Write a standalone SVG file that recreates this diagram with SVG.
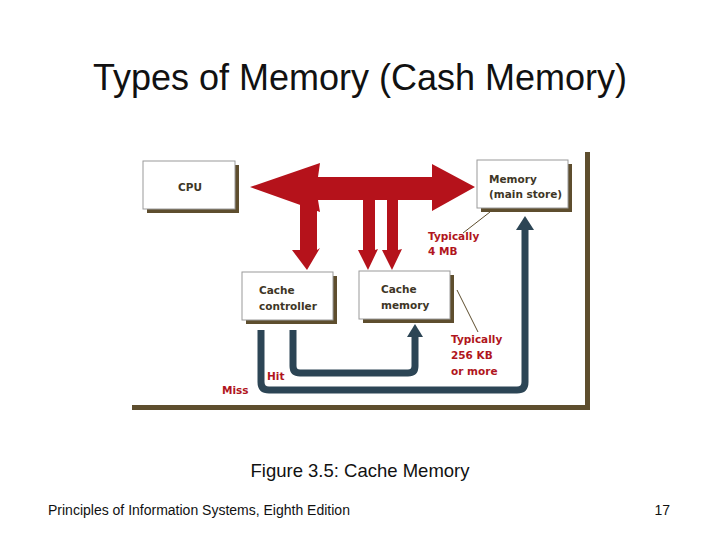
<svg xmlns="http://www.w3.org/2000/svg" width="720" height="540" viewBox="0 0 720 540">
<defs>
<style>
.box{fill:#fff;stroke:#9a9a9a;stroke-width:1}
.sh{fill:#5e4e2e}
.bt{font-family:"DejaVu Sans",sans-serif;font-size:10.5px;font-weight:bold;fill:#3e3626}
.rt{font-family:"DejaVu Sans",sans-serif;font-size:10.5px;font-weight:bold;fill:#b01520}
.blue{fill:none;stroke:#2c4555;stroke-width:7;stroke-linejoin:round}
.ah{fill:#2c4555}
.red{fill:#b5121b}
.lead{stroke:#5e4e2e;stroke-width:1}
</style>
</defs>
<rect width="720" height="540" fill="#fff"/>
<text x="360" y="90" text-anchor="middle" font-family="Liberation Sans, Arial, sans-serif" font-size="36" fill="#111">Types of Memory (Cash Memory)</text>
<g id="frame">
<rect x="585" y="152" width="5" height="258" class="sh"/>
<rect x="132" y="405" width="458" height="5" class="sh"/>
</g>
<g id="cpu">
<rect x="147" y="165" width="92" height="48" class="sh"/>
<rect x="143" y="161" width="92" height="48" class="box"/>
<text x="178" y="191" class="bt">CPU</text>
</g>
<g id="memory">
<rect x="481" y="164" width="91" height="48" class="sh"/>
<rect x="477" y="160" width="91" height="48" class="box"/>
<text x="489" y="183" class="bt">Memory</text>
<text x="489" y="198" class="bt">(main store)</text>
</g>
<g id="cache-controller">
<rect x="246" y="276" width="91" height="48" class="sh"/>
<rect x="242" y="272" width="91" height="48" class="box"/>
<text x="259" y="294" class="bt">Cache</text>
<text x="259" y="310" class="bt">controller</text>
</g>
<g id="cache-memory">
<rect x="363" y="275" width="91" height="48" class="sh"/>
<rect x="359" y="271" width="91" height="48" class="box"/>
<text x="381" y="293" class="bt">Cache</text>
<text x="381" y="309" class="bt">memory</text>
</g>
<g id="connectors">
<path class="red" d="M250,187 L320,163 L318,177 L432,177 L432,164 L475,187 L432,211 L432,200 L318,200 L320,212 Z"/>
<path class="red" d="M300,198 L317,198 L317,250 L320,248 L307,270 L292,250 L300,250 Z"/>
<path class="red" d="M363,198 L375,198 L375,250 L378,249 L368,270 L358,250 L363,250 Z"/>
<path class="red" d="M387,198 L398,198 L398,250 L402,249 L392,270 L382,250 L387,250 Z"/>
<path class="blue" d="M261,330 L261,382 Q261,390 269,390 L517,390 Q525,390 525,382 L525,226"/>
<path class="ah" d="M516,230 L525,216 L534,230 Z"/>
<path class="blue" d="M293,330 L293,366 Q293,373 300,373 L408,373 Q415,373 415,366 L415,333"/>
<path class="ah" d="M407,337 L415,324 L423,337 Z"/>
<line class="lead" x1="490" y1="212" x2="463" y2="233"/>
<line class="lead" x1="457" y1="290" x2="478" y2="332"/>
</g>
<g id="labels">
<text x="428" y="240" class="rt">Typically</text>
<text x="428" y="255" class="rt">4 MB</text>
<text x="451" y="343" class="rt">Typically</text>
<text x="451" y="359" class="rt">256 KB</text>
<text x="451" y="375" class="rt">or more</text>
<text x="267" y="380" class="rt">Hit</text>
<text x="222" y="394" class="rt">Miss</text>
</g>
<text x="360" y="477" text-anchor="middle" font-family="Liberation Sans, Arial, sans-serif" font-size="18.5" fill="#111">Figure 3.5: Cache Memory</text>
<text x="48" y="515" font-family="Liberation Sans, Arial, sans-serif" font-size="14" fill="#111">Principles of Information Systems, Eighth Edition</text>
<text x="670" y="515" text-anchor="end" font-family="Liberation Sans, Arial, sans-serif" font-size="14" fill="#111">17</text>
</svg>
